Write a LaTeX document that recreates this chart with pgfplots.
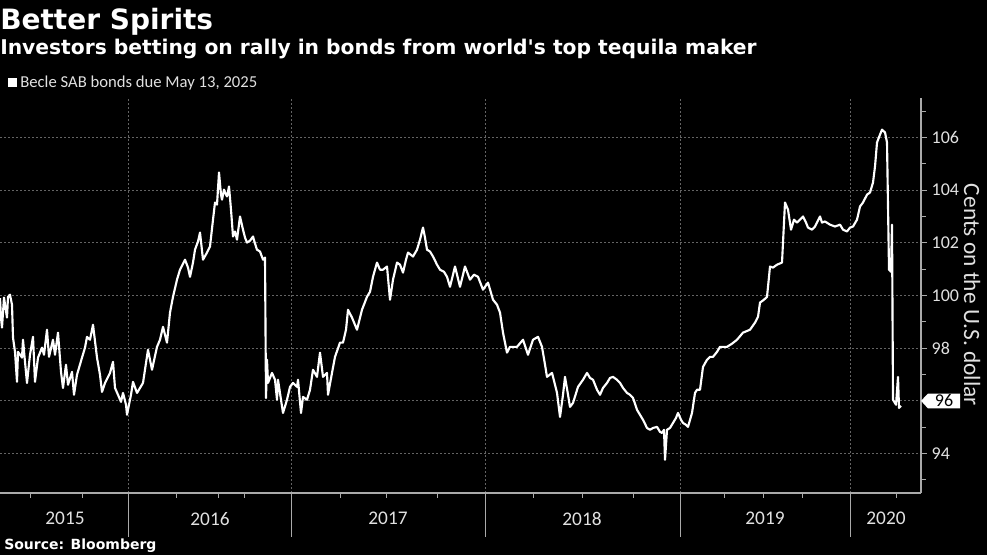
\documentclass[border=0pt]{standalone}
\usepackage{fontspec}
\setmainfont{Carlito}
\newfontfamily\headfont{DejaVu Sans}
\usepackage{pgfplots}
\pgfplotsset{compat=1.18}

\definecolor{axisgray}{RGB}{170,170,170}
\definecolor{gridgray}{RGB}{100,100,100}
\definecolor{labelgray}{RGB}{225,225,225}

\begin{document}
\begin{tikzpicture}
% black page, 987x555 px at 0.75pt per px
\path[use as bounding box, fill=black] (0pt,-46.5pt) rectangle (740.25pt,369.75pt);

\begin{axis}[
    at={(0pt,0pt)}, anchor=south west,
    scale only axis,
    width=690.75pt, height=296.25pt,
    xmin=0, xmax=921,
    ymin=92.5, ymax=107.5,
    axis x line*=bottom,
    axis y line*=right,
    axis line style={draw=axisgray, line width=0.8pt},
    clip=false,
    tick align=outside,
    major tick length=4.5pt,
    minor tick length=3.5pt,
    tick style={draw=axisgray, line width=0.6pt},
    xtick={128,291,485,680,850},
    xticklabels={,,,,},
    minor xtick={30,82,176,218,244,340,386,437,533,582,633,724,763,802,896},
    extra x ticks={65,210,388,582,765,886},
    extra x tick labels={2015,2016,2017,2018,2019,2020},
    extra x tick style={grid=none, major tick length=0pt,
        tick label style={yshift=-11pt}},
    ytick={94,96,98,100,102,104,106},
    yticklabels={94,,98,100,102,104,106},
    minor ytick={93,95,97,99,101,103,105,107},
    xmajorgrids, ymajorgrids,
    major grid style={draw=gridgray, line width=0.5pt, dash pattern=on 1.5pt off 1.5pt},
    ticklabel style={text=labelgray},
    x tick label style={font=\fontsize{14.5}{16}\selectfont},
    y tick label style={font=\fontsize{13.5}{15}\selectfont, anchor=west},
    /pgf/number format/assume math mode=true,
]
\addplot[white, line width=1.6pt, line join=round] coordinates {
(0,99.90) (1,99.16) (2,98.78) (4,99.92) (7,99.16) (8,99.95) (10,100.03) (12,99.65)
(13,98.40) (15,97.86) (17,96.72) (18,97.86) (22,97.64) (23,98.32) (25,97.48) (27,96.68)
(30,97.75) (33,98.43) (35,96.72) (38,97.64) (42,98.02) (44,97.75) (47,98.70) (49,97.67)
(53,98.32) (55,97.75) (58,98.59) (61,97.10) (63,96.49) (66,97.37) (68,96.61) (72,97.10)
(74,96.23) (77,96.99) (82,97.64) (85,98.02) (87,98.43) (90,98.32) (93,98.89) (97,97.64)
(100,96.99) (102,96.34) (105,96.68) (110,97.06) (113,97.48) (115,96.49) (118,96.23) (121,95.96)
(123,96.30) (126,95.85) (127,95.47) (131,96.23) (133,96.72) (137,96.30) (143,96.68) (148,97.94)
(152,97.18) (157,98.05) (160,98.32) (163,98.81) (167,98.21) (170,99.35) (173,99.95) (177,100.60)
(180,100.98) (185,101.36) (188,101.06) (190,100.71) (193,101.25) (195,101.74) (198,102.05) (200,102.39)
(203,101.36) (207,101.63) (210,101.86) (213,102.88) (215,103.53) (217,103.45) (219,104.67) (221,103.83)
(222,103.64) (224,104.02) (225,103.91) (227,103.76) (229,104.14) (231,103.26) (233,102.24) (235,102.43)
(237,102.12) (240,103.00) (243,102.50) (245,102.20) (247,102.01) (250,102.08) (253,102.24) (255,101.97)
(257,101.74) (260,101.67) (263,101.36) (265,101.44) (266,96.11) (267,97.56) (268,96.68) (272,97.06)
(275,96.80) (277,96.04) (278,96.80) (281,96.04) (283,95.54) (287,96.04) (290,96.53) (293,96.68)
(297,96.53) (298,96.80) (301,95.54) (303,96.15) (307,96.04) (310,96.42) (313,97.18) (317,96.91)
(320,97.83) (323,96.91) (327,97.06) (328,96.23) (332,97.06) (335,97.67) (340,98.21) (343,98.21)
(346,98.70) (348,99.46) (352,99.16) (357,98.70) (362,99.46) (367,99.95) (370,100.14) (373,100.71)
(377,101.25) (380,100.98) (383,100.98) (387,101.10) (390,99.84) (393,100.60) (397,101.25) (400,101.17)
(403,100.87) (406,101.36) (408,101.63) (413,101.48) (417,101.74) (420,102.12) (423,102.58) (425,102.20)
(427,101.74) (430,101.67) (433,101.48) (437,101.17) (440,100.98) (444,100.90) (447,100.71) (450,100.33)
(455,101.10) (460,100.33) (465,101.10) (470,100.60) (474,100.79) (478,100.71) (483,100.22) (488,100.49)
(493,99.84) (497,99.65) (500,99.35) (503,98.59) (507,97.83) (510,98.05) (517,98.05) (523,98.32)
(528,97.75) (533,98.32) (538,98.43) (542,98.05) (545,97.37) (547,96.91) (552,97.06) (555,96.61)
(557,96.30) (560,95.39) (563,96.23) (565,96.91) (568,96.23) (570,95.77) (573,95.92) (578,96.53)
(583,96.80) (587,97.06) (590,96.87) (593,96.80) (597,96.42) (600,96.23) (603,96.49) (607,96.68)
(610,96.87) (613,96.91) (617,96.80) (620,96.68) (623,96.49) (627,96.30) (630,96.23) (633,96.11)
(637,95.66) (640,95.47) (643,95.28) (647,94.97) (650,94.90) (653,94.97) (657,95.01) (660,94.82)
(662,94.78) (664,94.90) (665,93.76) (667,94.90) (670,94.97) (673,95.16) (676,95.35) (678,95.54)
(681,95.28) (683,95.16) (686,95.09) (688,95.01) (692,95.54) (695,96.30) (697,96.42) (700,96.42)
(703,97.29) (707,97.56) (710,97.67) (713,97.67) (717,97.86) (720,98.05) (727,98.05) (732,98.17)
(737,98.32) (743,98.59) (750,98.70) (755,98.97) (758,99.19) (760,99.73) (764,99.84) (767,99.95)
(770,101.10) (773,101.06) (777,101.17) (782,101.25) (785,103.53) (788,103.26) (791,102.50) (794,102.88)
(797,102.77) (800,102.88) (803,103.00) (806,102.77) (808,102.58) (812,102.50) (815,102.62) (820,103.00)
(822,102.77) (825,102.81) (830,102.69) (835,102.62) (840,102.69) (843,102.50) (847,102.43) (850,102.58)
(853,102.62) (857,102.88) (860,103.38) (863,103.53) (867,103.83) (870,103.91) (873,104.29) (875,104.90)
(877,105.81) (880,106.11) (882,106.30) (885,106.19) (887,105.81) (889,100.98) (891,100.90) (892,102.69)
(893,96.04) (896,95.85) (898,96.91) (899,95.73) (901,95.81)
};
\end{axis}

% year separators below the axis
\foreach \xx in {96,218.25,363.75,510,637.5} {
  \draw[axisgray, line width=0.6pt] (\xx pt,0pt) -- (\xx pt,-33pt);
}

% last value callout
\fill[white] (690.75pt,69.1pt) -- (696pt,74.6pt) -- (720pt,74.6pt) -- (720pt,63.4pt) -- (696pt,63.4pt) -- cycle;
\node[inner sep=0pt, text=black, font=\fontsize{13.5}{15}\selectfont] at (708pt,69.1pt) {96};

% y axis title
\node[rotate=-90, inner sep=0pt, text=labelgray, font=\fontsize{17.5}{19}\selectfont]
  at (729pt,148.5pt) {Cents on the U.S. dollar};

% titles
\node[anchor=base west, inner sep=0pt, text=white, font=\headfont\bfseries\fontsize{21}{24}\selectfont]
  at (0pt,347.25pt) {Better Spirits};
\node[anchor=base west, inner sep=0pt, text=white, font=\headfont\bfseries\fontsize{15.2}{18}\selectfont]
  at (0pt,328.5pt) {Investors betting on rally in bonds from world's top tequila maker};

% legend
\fill[white] (6pt,304.5pt) rectangle (12.75pt,311.25pt);
\node[anchor=base west, inner sep=0pt, text=labelgray, font=\fontsize{12.5}{14}\selectfont]
  at (15pt,304.25pt) {Becle SAB bonds due May 13, 2025};

% source
\node[anchor=base west, inner sep=0pt, text=white, font=\headfont\bfseries\fontsize{10.5}{12}\selectfont]
  at (3pt,-42.75pt) {Source: Bloomberg};
\end{tikzpicture}
\end{document}
